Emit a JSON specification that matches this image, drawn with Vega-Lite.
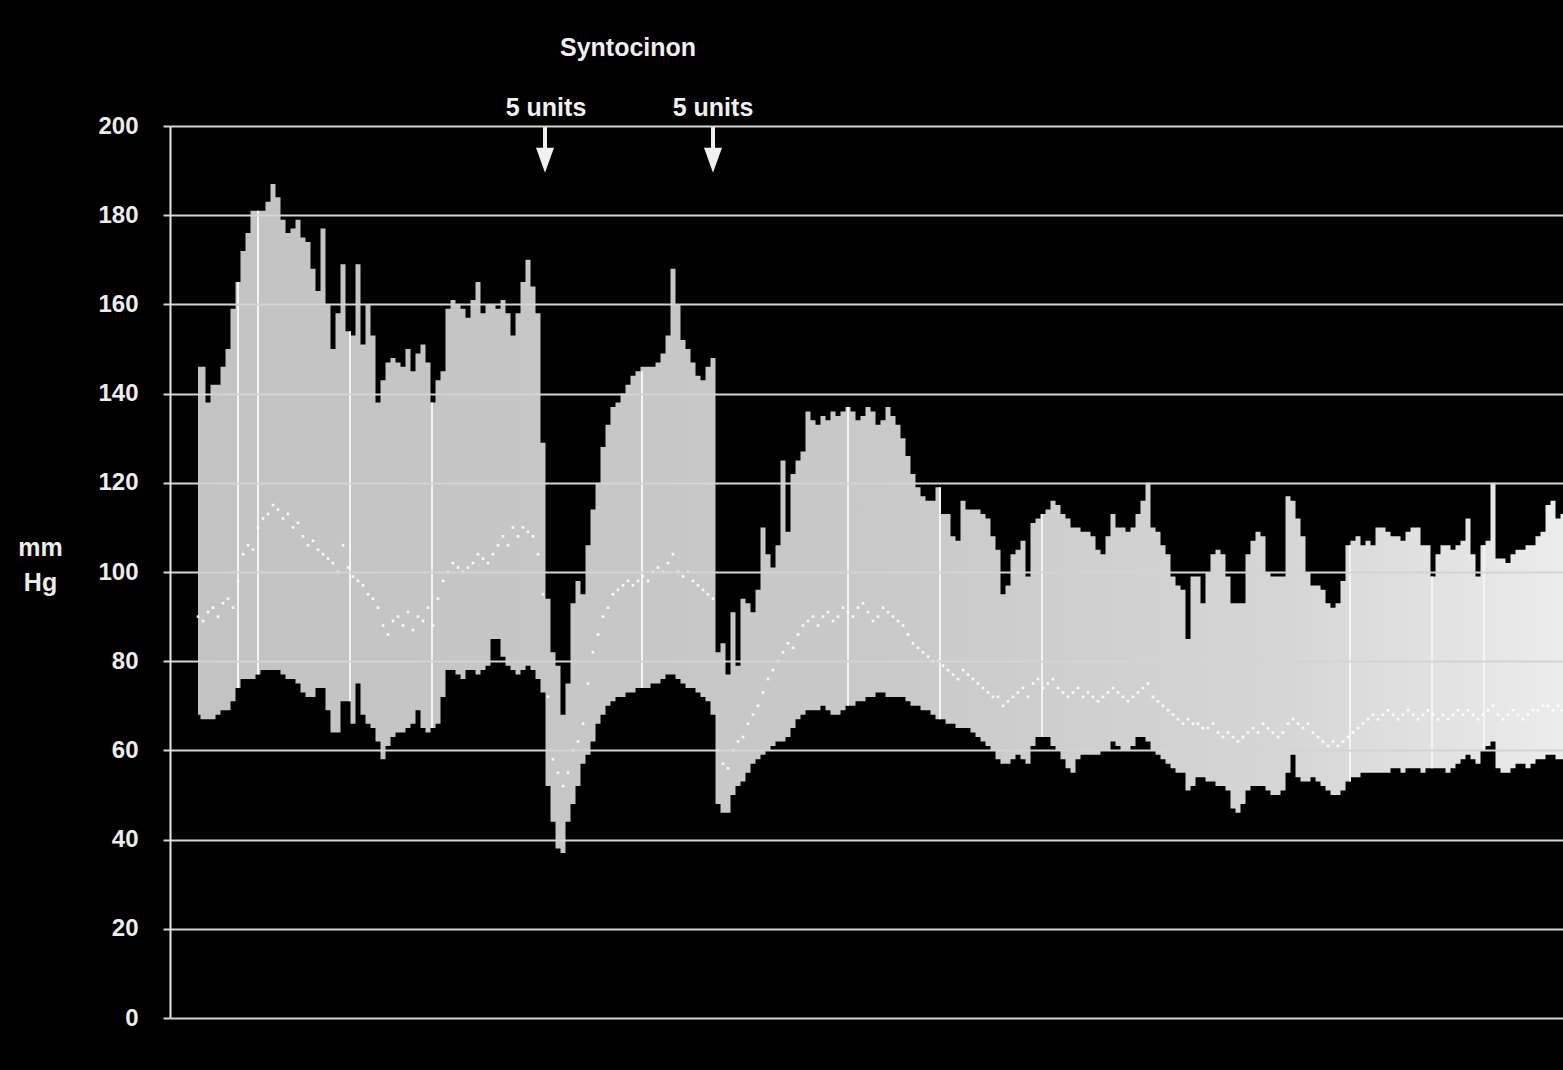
{
  "$schema": "https://vega.github.io/schema/vega-lite/v6.json",
  "width": 1393,
  "height": 892,
  "autosize": "none",
  "padding": {"left": 170, "top": 126, "right": 0, "bottom": 52},
  "background": "#000000",
  "config": {"view": {"stroke": null}},
  "datasets": {
    "bp": [
      {"t":0,"sys":146,"dia":68,"map":90},{"t":1,"sys":146,"dia":67,"map":89},{"t":2,"sys":138,"dia":67,"map":91},{"t":3,"sys":142,"dia":67,"map":92},{"t":4,"sys":142,"dia":68,"map":90},
      {"t":5,"sys":146,"dia":69,"map":93},{"t":6,"sys":150,"dia":69,"map":94},{"t":7,"sys":159,"dia":71,"map":92},{"t":8,"sys":165,"dia":74,"map":98},{"t":9,"sys":172,"dia":76,"map":104},
      {"t":10,"sys":176,"dia":76,"map":106},{"t":11,"sys":181,"dia":76,"map":105},{"t":12,"sys":181,"dia":77,"map":110},{"t":13,"sys":181,"dia":78,"map":112},{"t":14,"sys":183,"dia":78,"map":113},
      {"t":15,"sys":187,"dia":78,"map":115},{"t":16,"sys":184,"dia":78,"map":114},{"t":17,"sys":179,"dia":77,"map":112},{"t":18,"sys":176,"dia":76,"map":113},{"t":19,"sys":177,"dia":76,"map":110},
      {"t":20,"sys":179,"dia":75,"map":111},{"t":21,"sys":175,"dia":73,"map":108},{"t":22,"sys":174,"dia":72,"map":106},{"t":23,"sys":168,"dia":72,"map":107},{"t":24,"sys":163,"dia":74,"map":105},
      {"t":25,"sys":177,"dia":74,"map":104},{"t":26,"sys":160,"dia":69,"map":103},{"t":27,"sys":150,"dia":64,"map":102},{"t":28,"sys":158,"dia":64,"map":100},{"t":29,"sys":169,"dia":71,"map":106},
      {"t":30,"sys":154,"dia":71,"map":101},{"t":31,"sys":153,"dia":66,"map":99},{"t":32,"sys":169,"dia":75,"map":98},{"t":33,"sys":151,"dia":68,"map":97},{"t":34,"sys":160,"dia":66,"map":95},
      {"t":35,"sys":153,"dia":65,"map":94},{"t":36,"sys":138,"dia":62,"map":92},{"t":37,"sys":143,"dia":58,"map":88},{"t":38,"sys":147,"dia":61,"map":86},{"t":39,"sys":148,"dia":63,"map":89},
      {"t":40,"sys":147,"dia":64,"map":90},{"t":41,"sys":146,"dia":64,"map":88},{"t":42,"sys":150,"dia":65,"map":91},{"t":43,"sys":145,"dia":66,"map":87},{"t":44,"sys":149,"dia":69,"map":90},
      {"t":45,"sys":151,"dia":65,"map":89},{"t":46,"sys":147,"dia":64,"map":92},{"t":47,"sys":138,"dia":65,"map":88},{"t":48,"sys":143,"dia":66,"map":94},{"t":49,"sys":145,"dia":72,"map":98},
      {"t":50,"sys":159,"dia":78,"map":100},{"t":51,"sys":161,"dia":78,"map":102},{"t":52,"sys":160,"dia":77,"map":101},{"t":53,"sys":159,"dia":76,"map":100},{"t":54,"sys":157,"dia":78,"map":101},
      {"t":55,"sys":161,"dia":78,"map":102},{"t":56,"sys":165,"dia":77,"map":104},{"t":57,"sys":158,"dia":78,"map":103},{"t":58,"sys":160,"dia":79,"map":102},{"t":59,"sys":160,"dia":85,"map":104},
      {"t":60,"sys":159,"dia":85,"map":106},{"t":61,"sys":161,"dia":81,"map":108},{"t":62,"sys":158,"dia":79,"map":106},{"t":63,"sys":153,"dia":78,"map":110},{"t":64,"sys":158,"dia":77,"map":108},
      {"t":65,"sys":165,"dia":78,"map":110},{"t":66,"sys":170,"dia":79,"map":109},{"t":67,"sys":164,"dia":78,"map":108},{"t":68,"sys":158,"dia":76,"map":104},{"t":69,"sys":129,"dia":73,"map":95},
      {"t":70,"sys":94,"dia":52,"map":72},{"t":71,"sys":82,"dia":44,"map":58},{"t":72,"sys":79,"dia":38,"map":55},{"t":73,"sys":68,"dia":37,"map":52},{"t":74,"sys":75,"dia":44,"map":55},
      {"t":75,"sys":93,"dia":48,"map":60},{"t":76,"sys":98,"dia":52,"map":62},{"t":77,"sys":95,"dia":57,"map":66},{"t":78,"sys":106,"dia":59,"map":75},{"t":79,"sys":114,"dia":62,"map":82},
      {"t":80,"sys":120,"dia":66,"map":86},{"t":81,"sys":128,"dia":68,"map":90},{"t":82,"sys":133,"dia":70,"map":92},{"t":83,"sys":137,"dia":71,"map":95},{"t":84,"sys":138,"dia":72,"map":96},
      {"t":85,"sys":140,"dia":72,"map":97},{"t":86,"sys":142,"dia":73,"map":98},{"t":87,"sys":144,"dia":73,"map":97},{"t":88,"sys":145,"dia":74,"map":98},{"t":89,"sys":146,"dia":74,"map":99},
      {"t":90,"sys":146,"dia":74,"map":98},{"t":91,"sys":146,"dia":75,"map":100},{"t":92,"sys":147,"dia":75,"map":101},{"t":93,"sys":149,"dia":76,"map":100},{"t":94,"sys":153,"dia":77,"map":102},
      {"t":95,"sys":168,"dia":77,"map":104},{"t":96,"sys":160,"dia":76,"map":100},{"t":97,"sys":152,"dia":75,"map":99},{"t":98,"sys":150,"dia":74,"map":100},{"t":99,"sys":147,"dia":74,"map":98},
      {"t":100,"sys":144,"dia":73,"map":97},{"t":101,"sys":143,"dia":72,"map":96},{"t":102,"sys":146,"dia":71,"map":95},{"t":103,"sys":148,"dia":68,"map":94},{"t":104,"sys":82,"dia":48,"map":60},
      {"t":105,"sys":84,"dia":46,"map":57},{"t":106,"sys":77,"dia":46,"map":56},{"t":107,"sys":91,"dia":50,"map":60},{"t":108,"sys":79,"dia":52,"map":62},{"t":109,"sys":94,"dia":53,"map":63},
      {"t":110,"sys":93,"dia":55,"map":66},{"t":111,"sys":91,"dia":57,"map":68},{"t":112,"sys":96,"dia":58,"map":70},{"t":113,"sys":110,"dia":59,"map":73},{"t":114,"sys":104,"dia":60,"map":76},
      {"t":115,"sys":101,"dia":61,"map":78},{"t":116,"sys":106,"dia":62,"map":80},{"t":117,"sys":125,"dia":62,"map":82},{"t":118,"sys":109,"dia":63,"map":84},{"t":119,"sys":122,"dia":65,"map":83},
      {"t":120,"sys":125,"dia":67,"map":86},{"t":121,"sys":127,"dia":68,"map":88},{"t":122,"sys":136,"dia":69,"map":89},{"t":123,"sys":134,"dia":69,"map":90},{"t":124,"sys":133,"dia":69,"map":88},
      {"t":125,"sys":135,"dia":70,"map":90},{"t":126,"sys":134,"dia":69,"map":91},{"t":127,"sys":136,"dia":68,"map":89},{"t":128,"sys":135,"dia":68,"map":90},{"t":129,"sys":136,"dia":69,"map":92},
      {"t":130,"sys":137,"dia":70,"map":91},{"t":131,"sys":136,"dia":70,"map":90},{"t":132,"sys":134,"dia":71,"map":92},{"t":133,"sys":135,"dia":71,"map":93},{"t":134,"sys":137,"dia":72,"map":91},
      {"t":135,"sys":136,"dia":72,"map":89},{"t":136,"sys":133,"dia":73,"map":90},{"t":137,"sys":134,"dia":73,"map":92},{"t":138,"sys":137,"dia":72,"map":91},{"t":139,"sys":135,"dia":72,"map":90},
      {"t":140,"sys":133,"dia":72,"map":89},{"t":141,"sys":130,"dia":72,"map":88},{"t":142,"sys":126,"dia":71,"map":86},{"t":143,"sys":122,"dia":70,"map":84},{"t":144,"sys":119,"dia":70,"map":83},
      {"t":145,"sys":117,"dia":69,"map":82},{"t":146,"sys":116,"dia":69,"map":81},{"t":147,"sys":116,"dia":68,"map":80},{"t":148,"sys":119,"dia":67,"map":80},{"t":149,"sys":113,"dia":67,"map":79},
      {"t":150,"sys":113,"dia":66,"map":78},{"t":151,"sys":108,"dia":66,"map":77},{"t":152,"sys":107,"dia":65,"map":76},{"t":153,"sys":116,"dia":65,"map":78},{"t":154,"sys":114,"dia":65,"map":77},
      {"t":155,"sys":114,"dia":64,"map":76},{"t":156,"sys":114,"dia":63,"map":75},{"t":157,"sys":113,"dia":62,"map":74},{"t":158,"sys":112,"dia":61,"map":73},{"t":159,"sys":108,"dia":60,"map":72},
      {"t":160,"sys":105,"dia":58,"map":72},{"t":161,"sys":95,"dia":57,"map":70},{"t":162,"sys":97,"dia":57,"map":71},{"t":163,"sys":104,"dia":58,"map":72},{"t":164,"sys":105,"dia":59,"map":73},
      {"t":165,"sys":107,"dia":58,"map":74},{"t":166,"sys":99,"dia":57,"map":72},{"t":167,"sys":111,"dia":61,"map":75},{"t":168,"sys":112,"dia":63,"map":76},{"t":169,"sys":113,"dia":63,"map":74},
      {"t":170,"sys":114,"dia":63,"map":75},{"t":171,"sys":116,"dia":61,"map":76},{"t":172,"sys":115,"dia":60,"map":74},{"t":173,"sys":113,"dia":58,"map":73},{"t":174,"sys":112,"dia":56,"map":72},
      {"t":175,"sys":110,"dia":55,"map":73},{"t":176,"sys":110,"dia":58,"map":74},{"t":177,"sys":109,"dia":59,"map":72},{"t":178,"sys":109,"dia":59,"map":73},{"t":179,"sys":108,"dia":59,"map":72},
      {"t":180,"sys":105,"dia":59,"map":71},{"t":181,"sys":104,"dia":60,"map":72},{"t":182,"sys":108,"dia":60,"map":73},{"t":183,"sys":113,"dia":62,"map":74},{"t":184,"sys":110,"dia":61,"map":73},
      {"t":185,"sys":110,"dia":60,"map":72},{"t":186,"sys":109,"dia":60,"map":71},{"t":187,"sys":110,"dia":61,"map":72},{"t":188,"sys":113,"dia":63,"map":73},{"t":189,"sys":116,"dia":63,"map":74},
      {"t":190,"sys":120,"dia":62,"map":75},{"t":191,"sys":110,"dia":60,"map":72},{"t":192,"sys":109,"dia":59,"map":71},{"t":193,"sys":106,"dia":58,"map":70},{"t":194,"sys":104,"dia":57,"map":69},
      {"t":195,"sys":99,"dia":56,"map":68},{"t":196,"sys":97,"dia":55,"map":67},{"t":197,"sys":96,"dia":55,"map":66},{"t":198,"sys":85,"dia":51,"map":67},{"t":199,"sys":99,"dia":52,"map":66},
      {"t":200,"sys":99,"dia":54,"map":66},{"t":201,"sys":93,"dia":54,"map":65},{"t":202,"sys":100,"dia":53,"map":65},{"t":203,"sys":104,"dia":53,"map":66},{"t":204,"sys":105,"dia":52,"map":64},
      {"t":205,"sys":104,"dia":52,"map":63},{"t":206,"sys":99,"dia":51,"map":64},{"t":207,"sys":93,"dia":47,"map":63},{"t":208,"sys":93,"dia":46,"map":62},{"t":209,"sys":93,"dia":48,"map":63},
      {"t":210,"sys":104,"dia":51,"map":64},{"t":211,"sys":107,"dia":52,"map":65},{"t":212,"sys":109,"dia":52,"map":64},{"t":213,"sys":108,"dia":52,"map":66},{"t":214,"sys":100,"dia":51,"map":65},
      {"t":215,"sys":99,"dia":50,"map":64},{"t":216,"sys":99,"dia":50,"map":63},{"t":217,"sys":99,"dia":51,"map":64},{"t":218,"sys":117,"dia":55,"map":66},{"t":219,"sys":116,"dia":59,"map":67},
      {"t":220,"sys":112,"dia":54,"map":66},{"t":221,"sys":108,"dia":53,"map":65},{"t":222,"sys":100,"dia":53,"map":66},{"t":223,"sys":97,"dia":54,"map":64},{"t":224,"sys":97,"dia":53,"map":63},
      {"t":225,"sys":96,"dia":52,"map":62},{"t":226,"sys":93,"dia":51,"map":61},{"t":227,"sys":92,"dia":50,"map":62},{"t":228,"sys":93,"dia":50,"map":61},{"t":229,"sys":98,"dia":51,"map":62},
      {"t":230,"sys":106,"dia":53,"map":63},{"t":231,"sys":107,"dia":54,"map":64},{"t":232,"sys":108,"dia":54,"map":65},{"t":233,"sys":106,"dia":55,"map":66},{"t":234,"sys":107,"dia":55,"map":67},
      {"t":235,"sys":106,"dia":55,"map":68},{"t":236,"sys":110,"dia":55,"map":67},{"t":237,"sys":110,"dia":55,"map":68},{"t":238,"sys":109,"dia":55,"map":69},{"t":239,"sys":108,"dia":56,"map":68},
      {"t":240,"sys":108,"dia":56,"map":67},{"t":241,"sys":107,"dia":55,"map":68},{"t":242,"sys":109,"dia":56,"map":69},{"t":243,"sys":110,"dia":56,"map":68},{"t":244,"sys":110,"dia":56,"map":67},
      {"t":245,"sys":106,"dia":55,"map":68},{"t":246,"sys":106,"dia":56,"map":69},{"t":247,"sys":99,"dia":56,"map":68},{"t":248,"sys":104,"dia":56,"map":67},{"t":249,"sys":106,"dia":56,"map":68},
      {"t":250,"sys":106,"dia":55,"map":67},{"t":251,"sys":105,"dia":56,"map":68},{"t":252,"sys":106,"dia":57,"map":69},{"t":253,"sys":107,"dia":58,"map":68},{"t":254,"sys":112,"dia":59,"map":69},
      {"t":255,"sys":104,"dia":58,"map":68},{"t":256,"sys":99,"dia":57,"map":67},{"t":257,"sys":106,"dia":60,"map":68},{"t":258,"sys":107,"dia":61,"map":69},{"t":259,"sys":120,"dia":62,"map":70},
      {"t":260,"sys":103,"dia":56,"map":68},{"t":261,"sys":103,"dia":55,"map":67},{"t":262,"sys":102,"dia":55,"map":68},{"t":263,"sys":104,"dia":56,"map":69},{"t":264,"sys":105,"dia":57,"map":68},
      {"t":265,"sys":105,"dia":57,"map":67},{"t":266,"sys":106,"dia":56,"map":68},{"t":267,"sys":106,"dia":57,"map":69},{"t":268,"sys":108,"dia":58,"map":69},{"t":269,"sys":109,"dia":58,"map":70},
      {"t":270,"sys":115,"dia":59,"map":70},{"t":271,"sys":116,"dia":59,"map":69},{"t":272,"sys":112,"dia":58,"map":70},{"t":273,"sys":113,"dia":58,"map":69}
    ],
    "streaks": [
      {"t":8,"lo":74,"hi":165},{"t":12,"lo":77,"hi":181},{"t":30.4,"lo":71,"hi":154},{"t":46.8,"lo":65,"hi":138},
      {"t":88.8,"lo":74,"hi":145},{"t":130,"lo":70,"hi":137},{"t":148.4,"lo":67,"hi":119},{"t":168.8,"lo":63,"hi":113},
      {"t":230.4,"lo":53,"hi":106},{"t":246.8,"lo":56,"hi":99},{"t":257.2,"lo":60,"hi":106}
    ],
    "notes": [
      {"t":86,"y":217.5,"label":"Syntocinon"},
      {"t":69.6,"y":204,"label":"5 units"},
      {"t":103,"y":204,"label":"5 units"}
    ],
    "arrows": [
      {"t":69.4,"top":200,"bottom":194,"head":192.3},
      {"t":103,"top":200,"bottom":194,"head":192.3}
    ]
  },
  "layer": [
    {
      "data": {"name": "bp"},
      "mark": {"type": "area", "interpolate": "step", "color": {"gradient": "linear", "x1": 0, "x2": 1, "y1": 0, "y2": 0, "stops": [{"offset": 0, "color": "#c3c3c3"}, {"offset": 0.5, "color": "#c9c9c9"}, {"offset": 0.8, "color": "#d6d6d6"}, {"offset": 1, "color": "#ececec"}]}},
      "encoding": {
        "x": {"field": "t", "type": "quantitative", "scale": {"domain": [-5.6, 273], "nice": false, "zero": false}, "axis": null},
        "y": {"field": "sys", "type": "quantitative", "scale": {"domain": [0, 200], "nice": false}, "axis": {
          "values": [0, 20, 40, 60, 80, 100, 120, 140, 160, 180, 200],
          "grid": true, "gridColor": "#d4d4d4", "gridWidth": 2,
          "domainColor": "#e6e6e6", "domainWidth": 2,
          "tickColor": "#d4d4d4", "tickSize": 7, "tickWidth": 2,
          "labelColor": "#ececec", "labelFont": "Liberation Sans", "labelFontSize": 24, "labelFontWeight": "bold", "labelPadding": 25,
          "title": ["mm", "Hg"], "titleAngle": 0, "titleColor": "#ececec", "titleFont": "Liberation Sans", "titleFontSize": 25, "titleFontWeight": "bold",
          "titleX": -130, "titleY": 429, "titleAlign": "center", "titleBaseline": "alphabetic", "titleLineHeight": 35,
          "zindex": 1
        }},
        "y2": {"field": "dia"}
      }
    },
    {
      "data": {"name": "streaks"},
      "mark": {"type": "rule", "color": "#f4f4f4", "strokeWidth": 2},
      "encoding": {
        "x": {"field": "t", "type": "quantitative"},
        "y": {"field": "hi", "type": "quantitative"},
        "y2": {"field": "lo"}
      }
    },
    {
      "data": {"name": "bp"},
      "mark": {"type": "point", "shape": "square", "filled": true, "size": 7, "color": "#ffffff", "opacity": 0.9},
      "encoding": {
        "x": {"field": "t", "type": "quantitative"},
        "y": {"field": "map", "type": "quantitative"}
      }
    },
    {
      "data": {"name": "notes"},
      "mark": {"type": "text", "color": "#f0f0f0", "font": "Liberation Sans", "fontSize": 25, "fontWeight": "bold", "align": "center", "baseline": "middle"},
      "encoding": {
        "x": {"field": "t", "type": "quantitative"},
        "y": {"field": "y", "type": "quantitative"},
        "text": {"field": "label"}
      }
    },
    {
      "data": {"name": "arrows"},
      "mark": {"type": "rule", "color": "#f0f0f0", "strokeWidth": 4},
      "encoding": {
        "x": {"field": "t", "type": "quantitative"},
        "y": {"field": "top", "type": "quantitative"},
        "y2": {"field": "bottom"}
      }
    },
    {
      "data": {"name": "arrows"},
      "mark": {"type": "point", "shape": "M-0.9,-1.25L0.9,-1.25L0,1.25Z", "filled": true, "size": 400, "color": "#f0f0f0", "opacity": 1},
      "encoding": {
        "x": {"field": "t", "type": "quantitative"},
        "y": {"field": "head", "type": "quantitative"}
      }
    }
  ]
}
